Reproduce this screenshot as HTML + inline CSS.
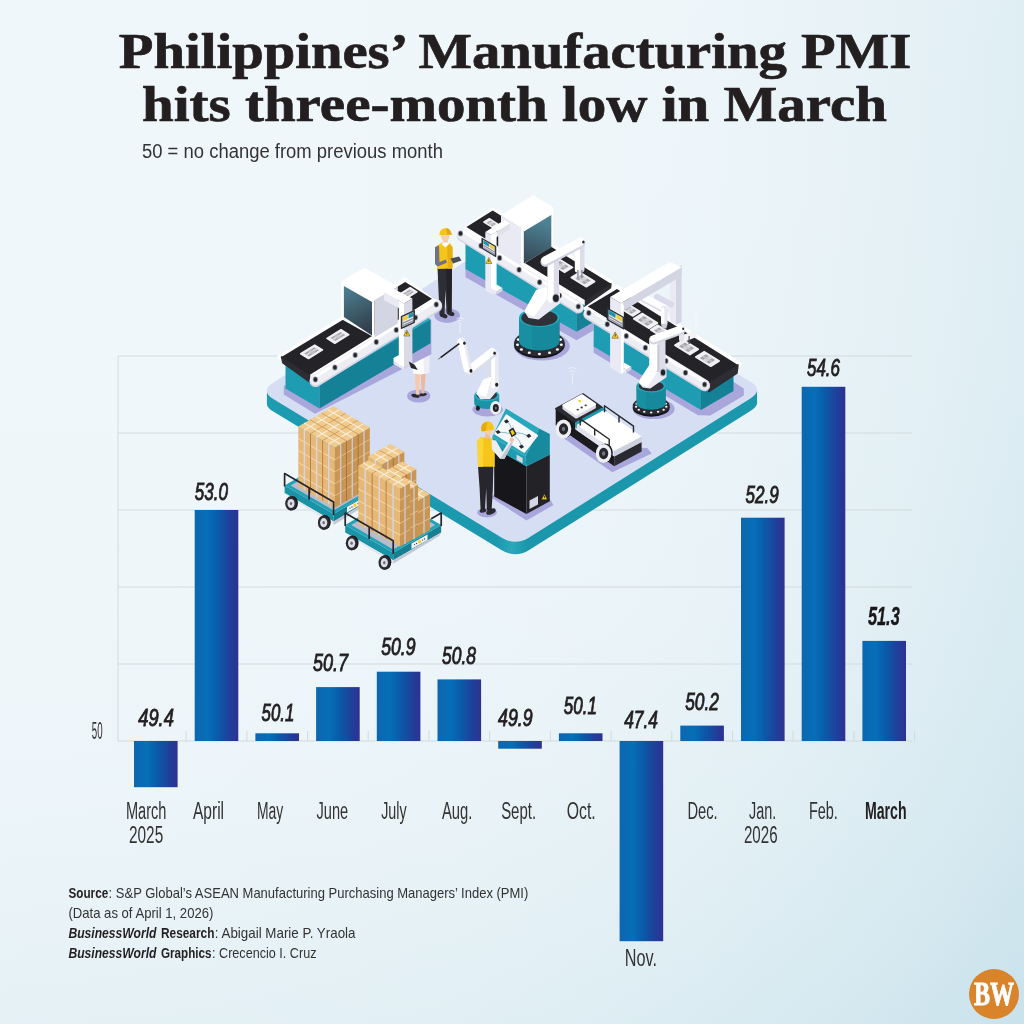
<!DOCTYPE html>
<html lang="en"><head><meta charset="utf-8"><title>Philippines’ Manufacturing PMI hits three-month low in March</title>
<style>
html,body{margin:0;padding:0;background:#e9f3f8;}
body{width:1024px;height:1024px;overflow:hidden;font-family:"Liberation Sans",sans-serif;}
svg{display:block}
</style></head><body>
<svg width="1024" height="1024" viewBox="0 0 1024 1024">
<defs>
<linearGradient id="gx" x1="0" y1="0" x2="1" y2="0"><stop offset="0" stop-color="#54a3c0" stop-opacity="0.0000"/><stop offset="0.3" stop-color="#54a3c0" stop-opacity="0.0008"/><stop offset="0.45" stop-color="#54a3c0" stop-opacity="0.0041"/><stop offset="0.6" stop-color="#54a3c0" stop-opacity="0.0130"/><stop offset="0.7" stop-color="#54a3c0" stop-opacity="0.0240"/><stop offset="0.8" stop-color="#54a3c0" stop-opacity="0.0410"/><stop offset="0.9" stop-color="#54a3c0" stop-opacity="0.0656"/><stop offset="1.0" stop-color="#54a3c0" stop-opacity="0.1000"/></linearGradient><linearGradient id="gy" x1="0" y1="0" x2="0" y2="1"><stop offset="0" stop-color="#54a3c0" stop-opacity="0.0000"/><stop offset="0.3" stop-color="#54a3c0" stop-opacity="0.0005"/><stop offset="0.45" stop-color="#54a3c0" stop-opacity="0.0026"/><stop offset="0.6" stop-color="#54a3c0" stop-opacity="0.0083"/><stop offset="0.7" stop-color="#54a3c0" stop-opacity="0.0154"/><stop offset="0.8" stop-color="#54a3c0" stop-opacity="0.0262"/><stop offset="0.9" stop-color="#54a3c0" stop-opacity="0.0420"/><stop offset="1.0" stop-color="#54a3c0" stop-opacity="0.0640"/></linearGradient><linearGradient id="gd" x1="0" y1="0" x2="1" y2="1"><stop offset="0" stop-color="#54a3c0" stop-opacity="0.0000"/><stop offset="0.3" stop-color="#54a3c0" stop-opacity="0.0009"/><stop offset="0.45" stop-color="#54a3c0" stop-opacity="0.0047"/><stop offset="0.6" stop-color="#54a3c0" stop-opacity="0.0149"/><stop offset="0.7" stop-color="#54a3c0" stop-opacity="0.0276"/><stop offset="0.8" stop-color="#54a3c0" stop-opacity="0.0471"/><stop offset="0.9" stop-color="#54a3c0" stop-opacity="0.0755"/><stop offset="1.0" stop-color="#54a3c0" stop-opacity="0.1150"/></linearGradient>
<linearGradient id="bar" x1="0" y1="0" x2="1" y2="0">
<stop offset="0" stop-color="#0d66b0"/><stop offset="0.3" stop-color="#056fb7"/><stop offset="0.55" stop-color="#0b59a8"/><stop offset="0.8" stop-color="#1f409b"/><stop offset="1" stop-color="#2e3192"/>
</linearGradient>
</defs>
<rect width="1024" height="1024" fill="#f0f7fa"/><rect width="1024" height="1024" fill="url(#gx)"/><rect width="1024" height="1024" fill="url(#gy)"/><rect width="1024" height="1024" fill="url(#gd)"/>
<line x1="118" y1="741.0" x2="912" y2="741.0" stroke="#d0d7db" stroke-width="0.9"/>
<line x1="118" y1="664.0" x2="912" y2="664.0" stroke="#d0d7db" stroke-width="0.9"/>
<line x1="118" y1="587.0" x2="912" y2="587.0" stroke="#d0d7db" stroke-width="0.9"/>
<line x1="118" y1="510.0" x2="912" y2="510.0" stroke="#d0d7db" stroke-width="0.9"/>
<line x1="118" y1="433.0" x2="912" y2="433.0" stroke="#d0d7db" stroke-width="0.9"/>
<line x1="118" y1="356.0" x2="912" y2="356.0" stroke="#d0d7db" stroke-width="0.9"/>
<line x1="118" y1="356.0" x2="118" y2="741.0" stroke="#d0d7db" stroke-width="0.9"/>
<line x1="186.2" y1="731.0" x2="186.2" y2="741.0" stroke="#d0d7db" stroke-width="0.9"/>
<line x1="246.9" y1="731.0" x2="246.9" y2="741.0" stroke="#d0d7db" stroke-width="0.9"/>
<line x1="307.6" y1="731.0" x2="307.6" y2="741.0" stroke="#d0d7db" stroke-width="0.9"/>
<line x1="368.2" y1="731.0" x2="368.2" y2="741.0" stroke="#d0d7db" stroke-width="0.9"/>
<line x1="429.0" y1="731.0" x2="429.0" y2="741.0" stroke="#d0d7db" stroke-width="0.9"/>
<line x1="489.6" y1="731.0" x2="489.6" y2="741.0" stroke="#d0d7db" stroke-width="0.9"/>
<line x1="550.4" y1="731.0" x2="550.4" y2="741.0" stroke="#d0d7db" stroke-width="0.9"/>
<line x1="611.1" y1="731.0" x2="611.1" y2="741.0" stroke="#d0d7db" stroke-width="0.9"/>
<line x1="671.8" y1="731.0" x2="671.8" y2="741.0" stroke="#d0d7db" stroke-width="0.9"/>
<line x1="732.5" y1="731.0" x2="732.5" y2="741.0" stroke="#d0d7db" stroke-width="0.9"/>
<line x1="793.1" y1="731.0" x2="793.1" y2="741.0" stroke="#d0d7db" stroke-width="0.9"/>
<line x1="853.9" y1="731.0" x2="853.9" y2="741.0" stroke="#d0d7db" stroke-width="0.9"/>
<line x1="914.6" y1="731.0" x2="914.6" y2="741.0" stroke="#d0d7db" stroke-width="0.9"/>
<g id="illustration">
<defs><linearGradient id="platside" x1="0" y1="0" x2="1" y2="0"><stop offset="0" stop-color="#1d9cb1"/><stop offset="0.47" stop-color="#1b98ad"/><stop offset="0.5" stop-color="#2aa9bc"/><stop offset="0.53" stop-color="#1a97ab"/><stop offset="1" stop-color="#1b98ad"/></linearGradient></defs><g fill="url(#platside)"><path d="M273.7,399.3 Q260.0,391.0 273.5,382.5 L495.5,242.5 Q509.0,234.0 522.6,242.3 L750.4,381.7 Q764.0,390.0 750.4,398.5 L529.1,537.5 Q515.5,546.0 501.8,537.7Z" transform="translate(0 12.5)"/><path d="M273.7,399.3 Q260.0,391.0 273.5,382.5 L495.5,242.5 Q509.0,234.0 522.6,242.3 L750.4,381.7 Q764.0,390.0 750.4,398.5 L529.1,537.5 Q515.5,546.0 501.8,537.7Z" transform="translate(0 10)"/><path d="M273.7,399.3 Q260.0,391.0 273.5,382.5 L495.5,242.5 Q509.0,234.0 522.6,242.3 L750.4,381.7 Q764.0,390.0 750.4,398.5 L529.1,537.5 Q515.5,546.0 501.8,537.7Z" transform="translate(0 7.5)"/><path d="M273.7,399.3 Q260.0,391.0 273.5,382.5 L495.5,242.5 Q509.0,234.0 522.6,242.3 L750.4,381.7 Q764.0,390.0 750.4,398.5 L529.1,537.5 Q515.5,546.0 501.8,537.7Z" transform="translate(0 5)"/><path d="M273.7,399.3 Q260.0,391.0 273.5,382.5 L495.5,242.5 Q509.0,234.0 522.6,242.3 L750.4,381.7 Q764.0,390.0 750.4,398.5 L529.1,537.5 Q515.5,546.0 501.8,537.7Z" transform="translate(0 2.5)"/></g><path d="M273.7,399.3 Q260.0,391.0 273.5,382.5 L495.5,242.5 Q509.0,234.0 522.6,242.3 L750.4,381.7 Q764.0,390.0 750.4,398.5 L529.1,537.5 Q515.5,546.0 501.8,537.7Z" fill="#d6def3"/>
<polygon points="465.5,262.0 465.5,277.2 576.5,340.2 593.5,330.5 593.5,318.0 576.5,300.0" fill="#a9a6dc"/><polygon points="465.5,269.0 576.5,331.7 576.5,301.7 465.5,239.0" fill="#1e9db2"/><polygon points="576.5,331.7 603.5,316.5 603.5,286.5 576.5,301.7" fill="#148197"/><polygon points="465.5,239.0 576.5,301.7 603.5,286.5 492.5,223.7" fill="#27a9bd"/><polygon points="464.9,228.5 492.7,208.5 614.0,282.8 585.5,304.4 468.4,233.0" fill="#ffffff" stroke="#fff" stroke-width="2.4" stroke-linejoin="round"/><polygon points="585.5,300.4 611.0,283.8 610.0,290.8 585.5,308.4" fill="#2d2d33" stroke="#2d2d33" stroke-width="1.5" stroke-linejoin="round"/><polygon points="466.4,227.0 492.7,210.5 611.0,283.8 585.5,300.4" fill="#232328"/><polygon points="484.0,222.0 493.3,227.8 498.6,224.6 489.3,218.8" fill="#f1f1f4" stroke="#f1f1f4" stroke-width="1.6" stroke-linejoin="round"/><polygon points="486.5,222.7 492.3,226.2 496.1,223.9 490.3,220.4" fill="#a4a5ad"/><polygon points="488.4,223.8 490.4,225.1 494.2,222.8 492.2,221.5" fill="#d9d9de"/><polygon points="487.9,221.9 493.6,225.4 494.7,224.7 489.0,221.2" fill="#c4c4cb" opacity="0.8"/><polygon points="550.4,263.6 564.6,272.4 572.6,267.4 558.4,258.6" fill="#f1f1f4" stroke="#f1f1f4" stroke-width="1.6" stroke-linejoin="round"/><polygon points="554.2,264.5 563.0,270.0 568.8,266.5 560.0,261.0" fill="#a4a5ad"/><polygon points="557.1,266.3 560.2,268.2 565.9,264.7 562.8,262.8" fill="#d9d9de"/><polygon points="556.2,263.3 565.1,268.8 566.8,267.7 557.9,262.2" fill="#c4c4cb" opacity="0.8"/><polygon points="571.3,277.5 586.3,286.8 594.7,281.5 579.7,272.2" fill="#f1f1f4" stroke="#f1f1f4" stroke-width="1.6" stroke-linejoin="round"/><polygon points="575.3,278.5 584.6,284.3 590.7,280.5 581.4,274.7" fill="#a4a5ad"/><polygon points="578.3,280.4 581.6,282.4 587.7,278.6 584.4,276.6" fill="#d9d9de"/><polygon points="577.4,277.2 586.7,282.9 588.6,281.8 579.3,276.1" fill="#c4c4cb" opacity="0.8"/><polygon points="501.0,215.1 521.0,227.5 521.0,265.5 501.0,253.1" fill="#e9eaf3"/><polygon points="521.0,227.5 553.3,207.5 553.3,245.5 521.0,265.5" fill="#ffffff"/><defs><linearGradient id="scr2" x1="0" y1="0" x2="-0.2" y2="1"><stop offset="0" stop-color="#4d8395"/><stop offset="1" stop-color="#33414d"/></linearGradient></defs><polygon points="523.8,231.5 551.3,215.0 551.3,247.5 523.8,263.5" fill="url(#scr2)"/><polygon points="501.0,215.1 533.3,195.1 553.3,207.5 521.0,227.5" fill="#ffffff"/><line x1="462.3" y1="235.9" x2="578.3" y2="308.0" stroke="#d3d5e3" stroke-width="11" stroke-linecap="round"/><line x1="462.3" y1="234.7" x2="578.3" y2="306.8" stroke="#ededf4" stroke-width="10" stroke-linecap="round"/><line x1="463.3" y1="231.4" x2="577.3" y2="303.5" stroke="#ffffff" stroke-width="3.0" stroke-linecap="round"/><ellipse cx="460.5" cy="233.4" rx="2.6" ry="3.0" fill="#9a9aa8"/><ellipse cx="460.5" cy="233.4" rx="1.8" ry="2.2" fill="#26262c"/><ellipse cx="481.0" cy="245.7" rx="2.6" ry="3.0" fill="#9a9aa8"/><ellipse cx="481.0" cy="245.7" rx="1.8" ry="2.2" fill="#26262c"/><ellipse cx="499.6" cy="258.0" rx="2.6" ry="3.0" fill="#9a9aa8"/><ellipse cx="499.6" cy="258.0" rx="1.8" ry="2.2" fill="#26262c"/><ellipse cx="519.1" cy="269.7" rx="2.6" ry="3.0" fill="#9a9aa8"/><ellipse cx="519.1" cy="269.7" rx="1.8" ry="2.2" fill="#26262c"/><ellipse cx="539.6" cy="282.2" rx="2.6" ry="3.0" fill="#9a9aa8"/><ellipse cx="539.6" cy="282.2" rx="1.8" ry="2.2" fill="#26262c"/><ellipse cx="559.5" cy="295.5" rx="2.6" ry="3.0" fill="#9a9aa8"/><ellipse cx="559.5" cy="295.5" rx="1.8" ry="2.2" fill="#26262c"/><ellipse cx="578.3" cy="306.6" rx="2.6" ry="3.0" fill="#9a9aa8"/><ellipse cx="578.3" cy="306.6" rx="1.8" ry="2.2" fill="#26262c"/><polygon points="498.2,229.5 501.3,227.5 501.3,254.0 498.2,252.0" fill="#e9eaf3"/><polygon points="485.3,232.0 491.0,235.0 510.0,223.5 504.5,220.0" fill="#ffffff"/><polygon points="491.0,235.0 510.0,223.5 510.0,229.0 491.0,240.5" fill="#dfe0ea"/><polygon points="485.3,232.0 491.0,235.0 491.0,293.5 485.3,290.5" fill="#e9eaf3"/><polygon points="491.0,235.0 496.6,231.5 496.6,290.0 491.0,293.5" fill="#ffffff"/><polygon points="491.0,288.0 496.6,284.5 502.5,288.0 496.6,291.5" fill="#ffffff"/><polygon points="491.0,288.0 496.6,291.5 496.6,294.5 491.0,293.5" fill="#e9eaf3"/><polygon points="496.6,291.5 502.5,288.0 502.5,291.0 496.6,294.5" fill="#d3d5e3"/><polygon points="482.0,238.4 495.7,246.6 495.7,256.4 482.0,248.2" fill="#2e333d" stroke="#2e333d" stroke-width="1.2" stroke-linejoin="round"/><polygon points="483.1,239.8 494.6,246.7 494.6,255.0 483.1,248.1" fill="#eef0f4"/><polygon points="483.4,240.2 488.9,243.5 488.9,246.9 483.4,243.6" fill="#1d93a8"/><polygon points="489.5,243.9 494.3,246.8 494.3,250.2 489.5,247.3" fill="#f0cf3a"/><polygon points="483.4,244.6 494.3,251.2 494.3,252.4 483.4,245.9" fill="#8c8f9a"/><polygon points="483.4,246.7 494.3,253.2 494.3,254.4 483.4,247.8" fill="#8c8f9a"/><polygon points="488.8,257.6 491.9,263.5 485.7,263.5" fill="#f4cf1f" stroke="#5b4a12" stroke-width="0.5" stroke-linejoin="round"/><rect x="488.4" y="259.5" width="0.8" height="2.5" fill="#3a2f10"/>
<polygon points="593.7,340.0 593.7,352.8 698.0,415.2 710.4,415.5 743.8,395.6 743.8,388.6 733.6,382.0" fill="#a9a6dc"/><polygon points="593.7,346.5 701.0,410.1 701.0,380.1 593.7,316.5" fill="#1e9db2"/><polygon points="701.0,410.1 733.5,390.9 733.5,360.9 701.0,380.1" fill="#148197"/><polygon points="593.7,316.5 701.0,380.1 733.5,360.9 626.2,297.2" fill="#27a9bd"/><polygon points="584.8,308.6 617.0,286.0 741.0,364.0 708.9,386.6" fill="#ffffff" stroke="#fff" stroke-width="3" stroke-linejoin="round"/><polygon points="708.9,382.6 738.0,365.0 737.0,373.0 708.9,391.6" fill="#2d2d33" stroke="#2d2d33" stroke-width="1.5" stroke-linejoin="round"/><polygon points="587.8,306.6 617.0,289.0 738.0,365.0 708.9,382.6" fill="#232328"/><polygon points="620.1,308.1 632.8,316.0 639.9,311.5 627.2,303.6" fill="#f1f1f4" stroke="#f1f1f4" stroke-width="1.6" stroke-linejoin="round"/><polygon points="623.5,308.9 631.4,313.8 636.5,310.7 628.6,305.8" fill="#a4a5ad"/><polygon points="626.0,310.5 628.8,312.3 634.0,309.1 631.2,307.3" fill="#d9d9de"/><polygon points="625.3,307.8 633.2,312.7 634.7,311.8 626.8,306.9" fill="#c4c4cb" opacity="0.8"/><polygon points="633.7,318.8 649.0,328.3 657.5,323.0 642.2,313.5" fill="#f1f1f4" stroke="#f1f1f4" stroke-width="1.6" stroke-linejoin="round"/><polygon points="637.8,319.9 647.3,325.8 653.4,321.9 643.9,316.0" fill="#a4a5ad"/><polygon points="640.9,321.8 644.2,323.8 650.3,320.0 647.0,318.0" fill="#d9d9de"/><polygon points="639.9,318.5 649.4,324.4 651.3,323.3 641.8,317.4" fill="#c4c4cb" opacity="0.8"/><polygon points="650.6,329.8 663.3,337.7 670.4,333.2 657.7,325.3" fill="#f1f1f4" stroke="#f1f1f4" stroke-width="1.6" stroke-linejoin="round"/><polygon points="654.0,330.6 661.9,335.5 667.0,332.4 659.1,327.5" fill="#a4a5ad"/><polygon points="656.5,332.2 659.3,334.0 664.5,330.8 661.7,329.0" fill="#d9d9de"/><polygon points="655.8,329.5 663.7,334.4 665.2,333.5 657.3,328.6" fill="#c4c4cb" opacity="0.8"/><polygon points="674.9,345.3 689.9,354.6 698.3,349.3 683.3,340.0" fill="#f1f1f4" stroke="#f1f1f4" stroke-width="1.6" stroke-linejoin="round"/><polygon points="678.9,346.3 688.2,352.1 694.3,348.3 685.0,342.5" fill="#a4a5ad"/><polygon points="681.9,348.2 685.2,350.2 691.3,346.4 688.0,344.4" fill="#d9d9de"/><polygon points="681.0,345.0 690.3,350.7 692.2,349.6 682.9,343.9" fill="#c4c4cb" opacity="0.8"/><polygon points="695.8,357.0 710.8,366.3 719.2,361.0 704.2,351.7" fill="#f1f1f4" stroke="#f1f1f4" stroke-width="1.6" stroke-linejoin="round"/><polygon points="699.8,358.0 709.1,363.8 715.2,360.0 705.9,354.2" fill="#a4a5ad"/><polygon points="702.8,359.9 706.1,361.9 712.2,358.1 708.9,356.1" fill="#d9d9de"/><polygon points="701.9,356.7 711.2,362.4 713.1,361.3 703.8,355.6" fill="#c4c4cb" opacity="0.8"/>
<ellipse cx="447.2" cy="315.6" rx="12.8" ry="7.3" fill="#a9a6dc"/><ellipse cx="443.5" cy="315.5" rx="4.2" ry="2.3" fill="#2a2a30" transform="rotate(25 443.5 315.5)"/><ellipse cx="450.5" cy="313.3" rx="4.2" ry="2.3" fill="#2a2a30" transform="rotate(25 450.5 313.3)"/><polygon points="437.5,268.0 452.0,268.0 451.5,312.0 446.5,312.0 445.5,290.0 444.5,314.0 439.5,314.0" fill="#2e2e35"/><polygon points="446.0,268.0 452.0,268.0 451.5,312.0 448.0,312.0" fill="#222228"/><polygon points="436.5,246.0 442.0,242.5 450.0,243.0 452.5,247.0 452.5,268.5 437.5,269.0" fill="#f6c51c"/><polygon points="447.0,243.0 452.5,247.0 452.5,268.5 448.0,268.7" fill="#e6b013"/><polygon points="435.0,247.0 439.0,245.5 439.5,262.0 446.0,259.5 446.8,262.8 437.5,266.5 435.0,264.0" fill="#6f7280"/><polygon points="450.5,258.5 459.0,256.5 461.5,260.5 453.0,263.5" fill="#4c4f5a"/><rect x="443.2" y="238" width="4.6" height="6" fill="#f2c7a5"/><polygon points="441.5,244.0 445.5,247.5 449.5,243.5 447.5,242.5 443.5,242.5" fill="#ffffff"/><ellipse cx="445.3" cy="236.0" rx="4.2" ry="5" fill="#f5cfb0"/><path d="M439.5,234 A5.8,5.8 0 0 1 451,233 L452.5,234.6 L439.5,235.2 Z" fill="#f6c51c"/><path d="M446,228 A5.5,5.5 0 0 1 451,233 L452.5,234.6 L447,234.8 Z" fill="#e3aa10"/>
<ellipse cx="418.7" cy="396.0" rx="11.6" ry="6.6" fill="#a9a6dc"/><ellipse cx="415.5" cy="395.8" rx="4.2" ry="1.8" fill="#2a2a30" transform="rotate(12 415.5 395.8)"/><ellipse cx="423.0" cy="394.6" rx="3.8" ry="1.6" fill="#2a2a30" transform="rotate(-8 423 394.6)"/><polygon points="414.8,372.0 420.0,372.0 419.0,394.5 416.0,394.5" fill="#f5c9ad"/><polygon points="420.6,372.0 425.8,372.0 424.2,393.5 421.6,393.5" fill="#eeb99a"/><polygon points="411.4,345.0 429.2,345.0 429.2,372.8 421.0,374.6 413.0,373.5" fill="#fdfdfe"/><polygon points="423.0,345.0 429.2,345.0 429.2,372.8 424.0,374.0" fill="#eeeff5"/>
<polygon points="283.8,386.0 283.8,394.4 315.0,413.7 431.3,354.2 431.3,320.0 400.0,330.0" fill="#a9a6dc"/><polygon points="285.5,388.5 319.5,408.5 319.5,384.5 285.5,364.5" fill="#1e9db2"/><polygon points="319.5,408.5 430.5,343.2 430.5,319.2 319.5,384.5" fill="#148197"/><polygon points="285.5,364.5 319.5,384.5 430.5,319.2 396.5,299.2" fill="#27a9bd"/><polygon points="278.5,357.0 309.5,379.0 435.0,301.8 405.2,278.9" fill="#ffffff" stroke="#fff" stroke-width="3" stroke-linejoin="round"/><polygon points="281.5,357.0 309.5,375.0 309.5,382.0 283.0,363.0" fill="#2d2d33" stroke="#2d2d33" stroke-width="1.5" stroke-linejoin="round"/><polygon points="281.5,357.0 309.5,375.0 432.0,298.8 405.2,281.9" fill="#232328"/><polygon points="300.7,353.7 308.5,358.5 322.5,349.9 314.7,345.1" fill="#f1f1f4" stroke="#f1f1f4" stroke-width="1.6" stroke-linejoin="round"/><polygon points="304.2,353.4 309.0,356.4 319.0,350.2 314.2,347.2" fill="#a4a5ad"/><polygon points="305.7,354.4 307.4,355.4 317.5,349.2 315.8,348.2" fill="#d9d9de"/><polygon points="307.7,351.2 312.5,354.2 315.5,352.4 310.7,349.4" fill="#c4c4cb" opacity="0.8"/><polygon points="327.0,338.4 334.8,343.2 348.8,334.6 341.0,329.8" fill="#f1f1f4" stroke="#f1f1f4" stroke-width="1.6" stroke-linejoin="round"/><polygon points="330.5,338.1 335.3,341.1 345.3,334.9 340.5,331.9" fill="#a4a5ad"/><polygon points="332.0,339.1 333.7,340.1 343.8,333.9 342.1,332.9" fill="#d9d9de"/><polygon points="334.0,335.9 338.8,338.9 341.8,337.1 337.0,334.1" fill="#c4c4cb" opacity="0.8"/><polygon points="398.1,295.1 404.9,299.3 416.9,291.9 410.1,287.7" fill="#f1f1f4" stroke="#f1f1f4" stroke-width="1.6" stroke-linejoin="round"/><polygon points="401.1,294.9 405.3,297.5 413.9,292.1 409.7,289.5" fill="#a4a5ad"/><polygon points="402.5,295.7 403.9,296.6 412.5,291.3 411.1,290.4" fill="#d9d9de"/><polygon points="404.1,293.0 408.3,295.6 410.9,294.0 406.7,291.4" fill="#c4c4cb" opacity="0.8"/><line x1="315.4" y1="381.1" x2="436.3" y2="306.1" stroke="#d3d5e3" stroke-width="12" stroke-linecap="round"/><line x1="315.4" y1="379.8" x2="436.3" y2="304.8" stroke="#ededf4" stroke-width="11" stroke-linecap="round"/><line x1="316.4" y1="376.2" x2="435.3" y2="301.2" stroke="#ffffff" stroke-width="3.2" stroke-linecap="round"/><ellipse cx="315.4" cy="379.5" rx="2.6" ry="3.0" fill="#9a9aa8"/><ellipse cx="315.4" cy="379.5" rx="1.8" ry="2.2" fill="#26262c"/><ellipse cx="334.9" cy="367.4" rx="2.6" ry="3.0" fill="#9a9aa8"/><ellipse cx="334.9" cy="367.4" rx="1.8" ry="2.2" fill="#26262c"/><ellipse cx="355.2" cy="355.1" rx="2.6" ry="3.0" fill="#9a9aa8"/><ellipse cx="355.2" cy="355.1" rx="1.8" ry="2.2" fill="#26262c"/><ellipse cx="376.3" cy="342.0" rx="2.6" ry="3.0" fill="#9a9aa8"/><ellipse cx="376.3" cy="342.0" rx="1.8" ry="2.2" fill="#26262c"/><ellipse cx="396.3" cy="329.9" rx="2.6" ry="3.0" fill="#9a9aa8"/><ellipse cx="396.3" cy="329.9" rx="1.8" ry="2.2" fill="#26262c"/><ellipse cx="415.4" cy="317.6" rx="2.6" ry="3.0" fill="#9a9aa8"/><ellipse cx="415.4" cy="317.6" rx="1.8" ry="2.2" fill="#26262c"/><ellipse cx="436.3" cy="304.5" rx="2.6" ry="3.0" fill="#9a9aa8"/><ellipse cx="436.3" cy="304.5" rx="1.8" ry="2.2" fill="#26262c"/><polygon points="374.4,300.0 397.8,286.4 397.8,323.4 374.4,337.5" fill="#d3d5e3"/><polygon points="341.2,281.5 374.4,300.0 374.4,337.5 341.2,319.0" fill="#ffffff"/><defs><linearGradient id="scr1" x1="0" y1="0" x2="0.3" y2="1"><stop offset="0" stop-color="#4d8395"/><stop offset="1" stop-color="#33414d"/></linearGradient></defs><polygon points="343.9,286.0 372.0,302.0 372.0,335.6 343.9,317.0" fill="url(#scr1)"/><polygon points="341.2,281.5 364.6,267.8 397.8,286.4 374.4,300.0" fill="#ffffff"/><polygon points="384.0,292.5 392.0,288.0 412.4,298.5 404.0,303.5" fill="#ffffff"/><polygon points="384.0,292.5 404.0,303.5 404.0,311.0 384.0,300.0" fill="#e9eaf3"/><polygon points="398.8,300.5 404.0,303.5 404.0,367.5 398.8,364.5" fill="#ffffff"/><polygon points="404.0,303.5 412.4,298.5 412.4,362.5 404.0,367.5" fill="#d9dae6"/><polygon points="393.5,358.0 398.8,355.0 404.0,358.0 404.0,367.5 393.5,361.5" fill="#ffffff"/><polygon points="393.5,361.5 404.0,367.5 404.0,370.0 393.5,364.0" fill="#e9eaf3"/><polygon points="404.0,367.5 412.4,362.5 412.4,365.0 404.0,370.0" fill="#d3d5e3"/><polygon points="401.4,316.5 414.3,310.5 414.3,322.5 401.4,328.5" fill="#2e333d" stroke="#2e333d" stroke-width="1.2" stroke-linejoin="round"/><polygon points="402.4,317.0 413.3,311.9 413.3,322.0 402.4,327.1" fill="#eef0f4"/><polygon points="402.7,317.1 407.9,314.7 407.9,318.9 402.7,321.3" fill="#f0cf3a"/><polygon points="408.5,314.4 413.0,312.3 413.0,316.5 408.5,318.6" fill="#1d93a8"/><polygon points="402.7,322.5 413.0,317.7 413.0,319.3 402.7,324.1" fill="#8c8f9a"/><polygon points="402.7,325.0 413.0,320.2 413.0,321.7 402.7,326.5" fill="#8c8f9a"/><polygon points="406.8,330.1 409.9,336.0 403.7,336.0" fill="#f4cf1f" stroke="#5b4a12" stroke-width="0.5" stroke-linejoin="round"/><rect x="406.4" y="332.0" width="0.8" height="2.5" fill="#3a2f10"/>
<polygon points="408.7,361.5 414.5,364.8 417.8,369.9 411.0,368.0" fill="#26262c"/>
<ellipse cx="541.9" cy="346.2" rx="27.9" ry="14.399999999999999" fill="#a9a6dc"/><ellipse cx="539.4" cy="345.0" rx="25.4" ry="13.2" fill="#141418"/><ellipse cx="539.4" cy="343.0" rx="25.4" ry="13.2" fill="#2b2b32"/><ellipse cx="560.5" cy="339.6" rx="1.55" ry="1.3175" fill="#f6f6f8"/><ellipse cx="561.3" cy="344.7" rx="1.55" ry="1.3175" fill="#f6f6f8"/><ellipse cx="557.4" cy="349.5" rx="1.55" ry="1.3175" fill="#f6f6f8"/><ellipse cx="549.5" cy="352.8" rx="1.55" ry="1.3175" fill="#f6f6f8"/><ellipse cx="539.4" cy="354.0" rx="1.55" ry="1.3175" fill="#f6f6f8"/><ellipse cx="529.3" cy="352.8" rx="1.55" ry="1.3175" fill="#f6f6f8"/><ellipse cx="521.4" cy="349.5" rx="1.55" ry="1.3175" fill="#f6f6f8"/><ellipse cx="517.5" cy="344.7" rx="1.55" ry="1.3175" fill="#f6f6f8"/><ellipse cx="518.3" cy="339.6" rx="1.55" ry="1.3175" fill="#f6f6f8"/><path d="M519.1,317.6 L519.1,341.0 A20.3,9.5 0 0 0 559.7,341.0 L559.7,317.6 Z" fill="#17899c"/><path d="M519.1,317.6 L519.1,341.0 A20.3,9.5 0 0 0 532.3,349.8 L532.3,317.6 Z" fill="#1b93a6" opacity="0.6"/><ellipse cx="539.4" cy="317.6" rx="20.3" ry="9.5" fill="#25a6ba"/><ellipse cx="539.4" cy="317.9" rx="18.1" ry="8.1" fill="#303038"/><polygon points="525.5,311.3 536.8,291.0 547.6,286.5 559.0,293.5 559.0,303.0 538.5,318.5 529.0,317.0" fill="#e9eaf3" stroke="#e9eaf3" stroke-width="2" stroke-linejoin="round"/><polygon points="525.5,311.3 536.8,291.0 546.0,288.0 547.0,297.0 533.5,316.0" fill="#ffffff" stroke="#fff" stroke-width="2" stroke-linejoin="round"/><rect x="547.6" y="255.5" width="11.4" height="47" rx="4.5" fill="#dcdde8"/><rect x="547.6" y="255.5" width="6.2" height="47" rx="3" fill="#ffffff"/><rect x="574.9" y="239.5" width="9.6" height="33" rx="3.5" fill="#dcdde8"/><rect x="574.9" y="239.5" width="5" height="33" rx="2.5" fill="#ffffff"/><line x1="545.2" y1="262.0" x2="580.5" y2="243.4" stroke="#d3d5e3" stroke-width="9.4" stroke-linecap="round"/><line x1="545.2" y1="260.3" x2="580.5" y2="241.7" stroke="#ffffff" stroke-width="8" stroke-linecap="round"/><rect x="577.2" y="270" width="1.4" height="8" fill="#8d8f9c"/><rect x="581.2" y="270" width="1.4" height="8" fill="#8d8f9c"/><ellipse cx="555.9" cy="298.2" rx="3.8" ry="4.6" fill="#b9bac6"/><ellipse cx="555.9" cy="298.2" rx="2.9" ry="3.7" fill="#222227"/><ellipse cx="583.4" cy="242.0" rx="1.2" ry="1.5" fill="#222227"/>
<polygon points="669.8,265.0 676.0,268.5 676.0,325.0 669.8,321.5" fill="#e9eaf3"/><polygon points="676.0,268.5 681.6,265.0 681.6,322.0 676.0,325.0" fill="#d3d5e3"/><line x1="657.0" y1="297.0" x2="671.0" y2="304.5" stroke="#d9daea" stroke-width="6.0" stroke-linecap="round"/><line x1="644.5" y1="298.8" x2="664.5" y2="309.3" stroke="#d9dbe7" stroke-width="7.8" stroke-linecap="round"/><line x1="644.5" y1="297.6" x2="664.5" y2="308.1" stroke="#ffffff" stroke-width="6.8" stroke-linecap="round"/><line x1="664.3" y1="309.0" x2="664.3" y2="322.5" stroke="#e6e7f0" stroke-width="6.6" stroke-linecap="round"/><line x1="662.8" y1="309.0" x2="662.8" y2="322.5" stroke="#ffffff" stroke-width="3.2" stroke-linecap="round"/><polygon points="661.0,324.0 667.5,324.0 666.3,328.5 662.2,328.5" fill="#c9cbd9"/><line x1="588.8" y1="314.3" x2="704.6" y2="385.8" stroke="#d3d5e3" stroke-width="11" stroke-linecap="round"/><line x1="588.8" y1="313.1" x2="704.6" y2="384.6" stroke="#ededf4" stroke-width="10" stroke-linecap="round"/><line x1="589.8" y1="309.8" x2="703.6" y2="381.3" stroke="#ffffff" stroke-width="3.0" stroke-linecap="round"/><ellipse cx="588.8" cy="312.9" rx="2.6" ry="3.0" fill="#9a9aa8"/><ellipse cx="588.8" cy="312.9" rx="1.8" ry="2.2" fill="#26262c"/><ellipse cx="607.3" cy="324.2" rx="2.6" ry="3.0" fill="#9a9aa8"/><ellipse cx="607.3" cy="324.2" rx="1.8" ry="2.2" fill="#26262c"/><ellipse cx="626.3" cy="335.9" rx="2.6" ry="3.0" fill="#9a9aa8"/><ellipse cx="626.3" cy="335.9" rx="1.8" ry="2.2" fill="#26262c"/><ellipse cx="645.4" cy="347.7" rx="2.6" ry="3.0" fill="#9a9aa8"/><ellipse cx="645.4" cy="347.7" rx="1.8" ry="2.2" fill="#26262c"/><ellipse cx="665.9" cy="360.9" rx="2.6" ry="3.0" fill="#9a9aa8"/><ellipse cx="665.9" cy="360.9" rx="1.8" ry="2.2" fill="#26262c"/><ellipse cx="685.5" cy="372.7" rx="2.6" ry="3.0" fill="#9a9aa8"/><ellipse cx="685.5" cy="372.7" rx="1.8" ry="2.2" fill="#26262c"/><ellipse cx="704.6" cy="384.4" rx="2.6" ry="3.0" fill="#9a9aa8"/><ellipse cx="704.6" cy="384.4" rx="1.8" ry="2.2" fill="#26262c"/><polygon points="610.1,296.9 669.8,261.7 681.6,267.6 623.8,301.6 621.0,303.2" fill="#ffffff"/><polygon points="623.8,301.6 681.6,267.6 681.6,276.0 623.8,310.5" fill="#d3d5e3"/><polygon points="610.1,296.9 621.0,303.2 621.0,374.0 610.1,367.5" fill="#e9eaf3"/><polygon points="621.0,303.2 623.8,301.6 623.8,372.4 621.0,374.0" fill="#ffffff"/><polygon points="623.8,362.5 631.3,366.8 626.5,369.6 623.8,368.0" fill="#ffffff"/><polygon points="623.8,368.0 626.5,369.6 626.5,372.6 623.8,372.4" fill="#e9eaf3"/><polygon points="626.5,369.6 631.3,366.8 631.3,369.8 626.5,372.6" fill="#d3d5e3"/><polygon points="607.3,308.2 623.8,317.4 623.8,329.0 607.3,319.8" fill="#2e333d" stroke="#2e333d" stroke-width="1.2" stroke-linejoin="round"/><polygon points="608.6,309.9 622.5,317.6 622.5,327.3 608.6,319.6" fill="#eef0f4"/><polygon points="608.9,310.3 615.5,314.0 615.5,318.0 608.9,314.3" fill="#1d93a8"/><polygon points="616.4,314.4 622.1,317.6 622.1,321.7 616.4,318.5" fill="#f0cf3a"/><polygon points="608.9,315.5 622.1,322.9 622.1,324.4 608.9,317.0" fill="#8c8f9a"/><polygon points="608.9,317.9 622.1,325.3 622.1,326.7 608.9,319.3" fill="#8c8f9a"/><polygon points="615.2,332.0 618.5,338.2 611.9,338.2" fill="#f4cf1f" stroke="#5b4a12" stroke-width="0.5" stroke-linejoin="round"/><rect x="614.8" y="334.0" width="0.8" height="2.6" fill="#3a2f10"/>
<ellipse cx="653.7" cy="409.0" rx="21.0" ry="10.1" fill="#a9a6dc"/><ellipse cx="651.2" cy="407.8" rx="18.5" ry="8.9" fill="#141418"/><ellipse cx="651.2" cy="405.8" rx="18.5" ry="8.9" fill="#2b2b32"/><ellipse cx="665.8" cy="403.7" rx="1.2" ry="1.02" fill="#f6f6f8"/><ellipse cx="666.3" cy="406.8" rx="1.2" ry="1.02" fill="#f6f6f8"/><ellipse cx="663.6" cy="409.7" rx="1.2" ry="1.02" fill="#f6f6f8"/><ellipse cx="658.1" cy="411.8" rx="1.2" ry="1.02" fill="#f6f6f8"/><ellipse cx="651.2" cy="412.5" rx="1.2" ry="1.02" fill="#f6f6f8"/><ellipse cx="644.3" cy="411.8" rx="1.2" ry="1.02" fill="#f6f6f8"/><ellipse cx="638.8" cy="409.7" rx="1.2" ry="1.02" fill="#f6f6f8"/><ellipse cx="636.1" cy="406.8" rx="1.2" ry="1.02" fill="#f6f6f8"/><ellipse cx="636.6" cy="403.7" rx="1.2" ry="1.02" fill="#f6f6f8"/><path d="M636.5,385.8 L636.5,403.2 A14.7,6.6 0 0 0 665.9,403.2 L665.9,385.8 Z" fill="#17899c"/><path d="M636.5,385.8 L636.5,403.2 A14.7,6.6 0 0 0 646.1,409.3 L646.1,385.8 Z" fill="#1b93a6" opacity="0.6"/><ellipse cx="651.2" cy="385.8" rx="14.7" ry="6.6" fill="#25a6ba"/><ellipse cx="651.2" cy="386.1" rx="12.5" ry="5.199999999999999" fill="#303038"/><polygon points="639.5,382.0 651.1,364.3 662.0,360.2 665.5,368.4 665.5,376.6 650.0,387.5 643.0,386.5" fill="#e9eaf3" stroke="#e9eaf3" stroke-width="2" stroke-linejoin="round"/><polygon points="639.5,382.0 651.1,364.3 656.5,362.6 656.0,372.0 647.0,386.0" fill="#ffffff" stroke="#fff" stroke-width="2" stroke-linejoin="round"/><rect x="649.4" y="336" width="16.1" height="36" rx="4" fill="#dcdde8"/><rect x="649.4" y="336" width="8" height="36" rx="3.5" fill="#ffffff"/><rect x="657.4" y="345" width="2.2" height="27" fill="#c9cbd9"/><rect x="679" y="325" width="5.2" height="16.5" rx="2" fill="#e3e4ed"/><polygon points="684.0,334.5 694.0,331.0 696.4,333.5 696.4,337.0 686.5,341.0 684.0,341.0" fill="#f3f3f7"/><rect x="688.5" y="336" width="1.2" height="8" fill="#55565f"/><line x1="653.5" y1="340.2" x2="681.0" y2="330.2" stroke="#d3d5e3" stroke-width="8.6" stroke-linecap="round"/><line x1="653.5" y1="338.8" x2="681.0" y2="328.8" stroke="#ffffff" stroke-width="7.2" stroke-linecap="round"/><ellipse cx="663.0" cy="372.5" rx="3.1" ry="3.9" fill="#b9bac6"/><ellipse cx="663.0" cy="372.5" rx="2.2" ry="2.9" fill="#222227"/><ellipse cx="683.2" cy="328.7" rx="1.0" ry="1.3" fill="#222227"/>
<g stroke="#ffffff" stroke-width="1" fill="none" opacity="0.55"><path d="M456.5,319.0 Q460.0,316.0 463.5,319.0"/><path d="M457.6,321.5 Q460.0,319.2 462.4,321.5"/><path d="M458.7,324.0 Q460.0,322.6 461.3,324.0"/><line x1="460.0" y1="325.0" x2="460.0" y2="333.0"/></g>
<g stroke="#ffffff" stroke-width="1" fill="none" opacity="0.55"><path d="M568.6,369.2 Q572.5,365.9 576.4,369.2"/><path d="M569.9,371.9 Q572.5,369.4 575.1,371.9"/><path d="M571.1,374.7 Q572.5,373.2 573.9,374.7"/><line x1="572.5" y1="375.8" x2="572.5" y2="384.6"/></g>
<g stroke="#ffffff" stroke-width="1" fill="none" opacity="0.55"><path d="M693.2,314.6 Q696.0,312.2 698.8,314.6"/><path d="M694.1,316.6 Q696.0,314.8 697.9,316.6"/><path d="M695.0,318.6 Q696.0,317.5 697.0,318.6"/><line x1="696.0" y1="319.4" x2="696.0" y2="325.8"/></g>
<ellipse cx="487.6" cy="409.6" rx="15.2" ry="6.8" fill="#a9a6dc"/><path d="M474.2,395.5 L474.2,403 A12.5,6 0 0 0 499.2,403 L499.2,395.5 Z" fill="#1b93a7"/><ellipse cx="486.7" cy="395.5" rx="12.5" ry="6" fill="#29a7bb"/><ellipse cx="486.7" cy="395.0" rx="10.4" ry="4.8" fill="#36363e"/><ellipse cx="477.9" cy="408.2" rx="2" ry="2.6" fill="#222227"/><polygon points="477.6,393.5 484.0,380.5 492.0,376.5 498.0,380.0 498.0,388.0 489.5,398.0 481.0,398.0" fill="#e9eaf3" stroke="#e9eaf3" stroke-width="2.4" stroke-linejoin="round"/><polygon points="477.6,393.5 484.0,380.5 490.5,378.0 485.5,395.5" fill="#ffffff" stroke="#fff" stroke-width="2.2" stroke-linejoin="round"/><line x1="488.2" y1="364.5" x2="488.2" y2="377.0" stroke="#dcdee9" stroke-width="5.6" stroke-linecap="butt"/><rect x="491.3" y="350.5" width="7.4" height="38" rx="3.4" fill="#e9eaf3"/><rect x="491.3" y="350.5" width="3.6" height="38" rx="1.8" fill="#ffffff"/><line x1="492.5" y1="353.2" x2="469.2" y2="371.6" stroke="#dcdee9" stroke-width="9" stroke-linecap="round"/><line x1="492.0" y1="351.6" x2="468.8" y2="370.0" stroke="#ffffff" stroke-width="7.4" stroke-linecap="round"/><line x1="467.8" y1="369.5" x2="461.4" y2="341.5" stroke="#e9eaf3" stroke-width="8.2" stroke-linecap="round"/><line x1="466.6" y1="369.3" x2="460.2" y2="341.3" stroke="#ffffff" stroke-width="5.6" stroke-linecap="round"/><line x1="459.3" y1="343.6" x2="440.5" y2="357.6" stroke="#26262c" stroke-width="1.7" stroke-linecap="butt"/><line x1="440.5" y1="357.6" x2="438.3" y2="359.2" stroke="#55565f" stroke-width="0.9" stroke-linecap="butt"/><ellipse cx="464.4" cy="343.2" rx="1.3" ry="1.625" fill="#222227"/><ellipse cx="471.0" cy="370.8" rx="1.5" ry="1.875" fill="#222227"/><ellipse cx="494.6" cy="353.2" rx="1.3" ry="1.625" fill="#222227"/><ellipse cx="496.7" cy="384.7" rx="1.6" ry="2.0" fill="#222227"/><ellipse cx="495.6" cy="407.9" rx="5.5" ry="6.9" fill="#eeeff4"/><ellipse cx="495.8" cy="407.9" rx="3" ry="4" fill="#222227"/><ellipse cx="495.8" cy="407.9" rx="1.1" ry="1.5" fill="#6f717d"/>
<polygon points="557.7,434.0 612.3,472.3 651.6,453.5 647.6,448.2 635.6,447.3" fill="#a9a6dc"/><polygon points="555.7,425.2 614.3,466.2 614.3,456.6 575.2,429.2 575.2,422.2 555.7,408.6" fill="#1a1a1f"/><polygon points="614.3,466.2 641.6,451.5 641.6,441.9 614.3,456.6" fill="#2a2a30"/><polygon points="555.7,408.6 575.2,422.2 602.5,407.5 583.0,393.9" fill="#2c2c33" stroke="#2c2c33" stroke-width="1.5" stroke-linejoin="round"/><polygon points="575.2,422.2 579.7,425.4 607.0,410.7 602.5,407.5" fill="#1c97ab"/><polygon points="575.2,427.2 579.7,430.4 579.7,425.4 575.2,422.2" fill="#17889b"/><polygon points="576.7,430.3 614.3,456.6 614.3,451.1 576.7,424.8" fill="#e2e3ec"/><polygon points="614.3,456.6 641.6,441.9 641.6,436.4 614.3,451.1" fill="#cdd0dd"/><polygon points="576.7,424.8 614.3,451.1 641.6,436.4 604.0,410.1" fill="#ffffff"/><polygon points="563.7,408.6 576.2,417.4 594.7,407.4 594.7,404.2 576.2,414.2 563.7,405.4" fill="#d9dbe6" stroke="#d9dbe6" stroke-width="2.4" stroke-linejoin="round"/><polygon points="563.7,405.4 576.2,414.2 594.7,404.2 582.2,395.4" fill="#ffffff" stroke="#fff" stroke-width="2.4" stroke-linejoin="round"/><ellipse cx="579.7" cy="401.1" rx="1.5" ry="1.1" fill="#f4cf1f"/><ellipse cx="577.7" cy="409.6" rx="1.2" ry="0.9" fill="#3a3a42"/><ellipse cx="581.7" cy="407.5" rx="1.2" ry="0.9" fill="#3a3a42"/><ellipse cx="585.7" cy="405.3" rx="1.2" ry="0.9" fill="#3a3a42"/><path d="M604.5,412.3 L604.5,405.8 L633.5,426.1 L633.5,432.6 M619.0,422.4 L619.0,415.9" stroke="#26262c" stroke-width="1.4" fill="none" stroke-linejoin="round"/><path d="M580.2,425.4 L580.2,418.9 L609.2,439.2 L609.2,445.7 M594.7,435.5 L594.7,429.0" stroke="#26262c" stroke-width="1.4" fill="none" stroke-linejoin="round"/><ellipse cx="565.1" cy="428.4" rx="7.6" ry="9.4" fill="#131316"/><ellipse cx="563.5" cy="429.0" rx="7.8" ry="9.6" fill="#eeeff4"/><ellipse cx="563.5" cy="429.0" rx="4.6" ry="5.8" fill="#26262c"/><ellipse cx="563.5" cy="429.0" rx="1.7" ry="2.2" fill="#6f717d"/><ellipse cx="605.2" cy="452.9" rx="7.6" ry="9.4" fill="#131316"/><ellipse cx="603.6" cy="453.5" rx="7.8" ry="9.6" fill="#eeeff4"/><ellipse cx="603.6" cy="453.5" rx="4.6" ry="5.8" fill="#26262c"/><ellipse cx="603.6" cy="453.5" rx="1.7" ry="2.2" fill="#6f717d"/>
<polygon points="491.0,497.5 526.4,520.5 553.5,505.0 549.8,499.0 526.4,512.0 494.2,494.0" fill="#a9a6dc"/><polygon points="494.2,447.6 526.4,466.2 526.4,514.0 494.2,496.4" fill="#17171b"/><polygon points="526.4,466.2 549.8,454.5 549.8,501.3 526.4,514.0" fill="#222227"/><polygon points="526.4,466.4 525.4,456.4 539.1,428.5 549.8,433.9 549.8,454.7" fill="#178a9e"/><polygon points="492.2,436.9 505.9,408.6 539.1,428.5 525.4,456.4" fill="#27a7bb"/><polygon points="492.2,436.9 525.4,456.4 526.4,466.4 494.2,447.8" fill="#1e9db2"/><polygon points="495.2,433.6 506.4,415.4 537.0,435.7 524.2,451.8" fill="#f7f8fb" stroke="#f7f8fb" stroke-width="2" stroke-linejoin="round"/><path d="M506.5,421.3 L510,424.5 L511.5,429.5 M498.1,432 L504,432.5 L510,433.5 M528.8,435.9 L522,433.5 L515.5,432.5 M521.5,446.6 L519.5,441 L514.5,436" stroke="#3f97a6" stroke-width="0.6" fill="none"/><polygon points="503.9,420.9 506.9,419.2 509.1,421.7 506.1,423.4" fill="#26262c"/><polygon points="495.5,431.6 498.5,429.9 500.7,432.4 497.7,434.1" fill="#26262c"/><polygon points="526.2,435.5 529.2,433.8 531.4,436.3 528.4,438.0" fill="#26262c"/><polygon points="518.9,446.2 521.9,444.5 524.1,447.0 521.1,448.7" fill="#26262c"/><polygon points="508.5,430.2 513.3,427.6 516.6,434.2 511.6,437.2" fill="#26262c"/><polygon points="510.3,431.0 512.8,429.7 514.8,433.6 512.2,435.2" fill="#f4cf1f"/><polygon points="516.6,454.5 522.6,458.0 522.6,463.3 516.6,459.8" fill="#d4d7e3"/><polygon points="529.5,500.5 538.0,496.0 538.0,504.5 529.5,509.0" fill="#d4d7e3"/><polygon points="544.4,494.2 547.2,499.5 541.6,499.5" fill="#f4cf1f" stroke="#5b4a12" stroke-width="0.5" stroke-linejoin="round"/><rect x="544.0" y="495.9" width="0.8" height="2.2" fill="#3a2f10"/>
<ellipse cx="487.0" cy="512.6" rx="10" ry="4.8" fill="#a9a6dc"/><ellipse cx="483.0" cy="510.6" rx="3.4" ry="2" fill="#2a2a30" transform="rotate(-10 483 510.6)"/><ellipse cx="491.0" cy="511.6" rx="5" ry="2.5" fill="#2a2a30" transform="rotate(-24 491 511.6)"/><polygon points="478.0,466.0 493.4,466.0 492.8,490.0 491.6,510.5 486.8,510.5 486.2,488.0 485.0,510.0 480.6,510.0 479.6,488.0" fill="#26262c"/><polygon points="477.2,441.0 481.0,437.2 490.0,437.5 494.6,441.5 494.8,466.8 478.0,466.8" fill="#f6c51c"/><polygon points="477.2,441.0 481.0,437.2 483.4,437.8 483.0,466.8 478.0,466.8" fill="#fbd534"/><polygon points="491.5,440.0 496.0,440.5 502.5,452.0 509.8,440.2 513.0,442.4 504.5,458.8 500.0,458.8 492.0,449.5" fill="#eceef4"/><polygon points="500.0,458.8 504.5,458.8 513.0,442.4 511.5,441.4" fill="#c5c9d6"/><ellipse cx="511.8" cy="439.8" rx="2.3" ry="2.3" fill="#f2c7a5"/><rect x="485.2" y="431.5" width="4.6" height="7" fill="#eebf99"/><ellipse cx="488.4" cy="430.0" rx="4.2" ry="4.6" fill="#f5cfb0"/><path d="M481.2,428.6 A6.2,6.2 0 0 1 493.5,426.6 L494.4,429.8 L481.8,431.6 Z" fill="#f6c51c"/><path d="M481.2,428.6 A6.2,6.2 0 0 1 487,422.2 L486,430.8 L481.8,431.6 Z" fill="#e3aa10"/>
<polygon points="284.6,485.5 333.6,513.9 333.6,521.4 284.6,493.0" fill="#1b93a7"/><polygon points="333.6,513.9 379.6,487.2 379.6,494.7 333.6,521.4" fill="#167f91"/><polygon points="284.6,493.0 333.6,521.4 333.6,524.9 288.6,496.5" fill="#e4e5ee"/><polygon points="333.6,521.4 379.6,494.7 377.6,498.2 333.6,524.9" fill="#c4c6d4"/><polygon points="284.6,485.5 333.6,513.9 379.6,487.2 330.6,458.8" fill="#22a2b7"/><polygon points="290.6,485.5 333.6,510.4 373.6,487.2 330.6,462.3" fill="#b9bccb"/><ellipse cx="292.2" cy="503.1" rx="5.8" ry="7.2" fill="#17171b"/><ellipse cx="291.0" cy="503.5" rx="5.8" ry="7.2" fill="#2a2a30"/><ellipse cx="291.0" cy="503.5" rx="3.6" ry="4.6" fill="#dcdde6"/><ellipse cx="291.0" cy="503.5" rx="1.2" ry="1.6" fill="#6a6c78"/><polygon points="298.3,486.5 334.8,507.7 334.8,447.7 298.3,426.5" fill="#e6b877"/><polygon points="334.8,507.7 369.8,487.4 369.8,427.4 334.8,447.7" fill="#c99552"/><polygon points="298.3,426.5 334.8,447.7 369.8,427.4 333.3,406.2" fill="#f0cb8d"/><line x1="298.3" y1="474.5" x2="334.8" y2="495.7" stroke="#f6deb4" stroke-width="0.9" stroke-linecap="butt"/><line x1="334.8" y1="495.7" x2="369.8" y2="475.4" stroke="#e6c088" stroke-width="0.9" stroke-linecap="butt"/><line x1="298.3" y1="462.5" x2="334.8" y2="483.7" stroke="#f6deb4" stroke-width="0.9" stroke-linecap="butt"/><line x1="334.8" y1="483.7" x2="369.8" y2="463.4" stroke="#e6c088" stroke-width="0.9" stroke-linecap="butt"/><line x1="298.3" y1="450.5" x2="334.8" y2="471.7" stroke="#f6deb4" stroke-width="0.9" stroke-linecap="butt"/><line x1="334.8" y1="471.7" x2="369.8" y2="451.4" stroke="#e6c088" stroke-width="0.9" stroke-linecap="butt"/><line x1="298.3" y1="438.5" x2="334.8" y2="459.7" stroke="#f6deb4" stroke-width="0.9" stroke-linecap="butt"/><line x1="334.8" y1="459.7" x2="369.8" y2="439.4" stroke="#e6c088" stroke-width="0.9" stroke-linecap="butt"/><line x1="304.4" y1="490.0" x2="304.4" y2="430.0" stroke="#d8d3dc" stroke-width="1.5" stroke-linecap="butt"/><line x1="304.4" y1="430.0" x2="339.4" y2="409.7" stroke="#f7ecd9" stroke-width="1.2" stroke-linecap="butt"/><line x1="310.5" y1="493.6" x2="310.5" y2="433.6" stroke="#b98343" stroke-width="1.0" stroke-linecap="butt"/><line x1="310.5" y1="433.6" x2="345.5" y2="413.3" stroke="#c99552" stroke-width="0.8" stroke-linecap="butt"/><line x1="316.6" y1="497.1" x2="316.6" y2="437.1" stroke="#d8d3dc" stroke-width="1.5" stroke-linecap="butt"/><line x1="316.6" y1="437.1" x2="351.6" y2="416.8" stroke="#f7ecd9" stroke-width="1.2" stroke-linecap="butt"/><line x1="322.6" y1="500.6" x2="322.6" y2="440.6" stroke="#b98343" stroke-width="1.0" stroke-linecap="butt"/><line x1="322.6" y1="440.6" x2="357.6" y2="420.3" stroke="#c99552" stroke-width="0.8" stroke-linecap="butt"/><line x1="328.7" y1="504.1" x2="328.7" y2="444.1" stroke="#d8d3dc" stroke-width="1.5" stroke-linecap="butt"/><line x1="328.7" y1="444.1" x2="363.7" y2="423.8" stroke="#f7ecd9" stroke-width="1.2" stroke-linecap="butt"/><line x1="340.6" y1="504.3" x2="340.6" y2="444.3" stroke="#cdc7d1" stroke-width="1.4" stroke-linecap="butt"/><line x1="304.1" y1="423.1" x2="340.6" y2="444.3" stroke="#f7ecd9" stroke-width="1.2" stroke-linecap="butt"/><line x1="346.5" y1="500.9" x2="346.5" y2="440.9" stroke="#a8753a" stroke-width="1.0" stroke-linecap="butt"/><line x1="310.0" y1="419.7" x2="346.5" y2="440.9" stroke="#c99552" stroke-width="0.8" stroke-linecap="butt"/><line x1="352.3" y1="497.5" x2="352.3" y2="437.5" stroke="#cdc7d1" stroke-width="1.4" stroke-linecap="butt"/><line x1="315.8" y1="416.4" x2="352.3" y2="437.5" stroke="#f7ecd9" stroke-width="1.2" stroke-linecap="butt"/><line x1="358.1" y1="494.1" x2="358.1" y2="434.1" stroke="#a8753a" stroke-width="1.0" stroke-linecap="butt"/><line x1="321.6" y1="413.0" x2="358.1" y2="434.1" stroke="#c99552" stroke-width="0.8" stroke-linecap="butt"/><line x1="364.0" y1="490.8" x2="364.0" y2="430.8" stroke="#cdc7d1" stroke-width="1.4" stroke-linecap="butt"/><line x1="327.5" y1="409.6" x2="364.0" y2="430.8" stroke="#f7ecd9" stroke-width="1.2" stroke-linecap="butt"/><path d="M284.6,486.5 L284.6,473.5 L333.6,501.9 L333.6,514.9 M309.1,487.7 L309.1,499.7" stroke="#26262c" stroke-width="1.7" fill="none" stroke-linejoin="round"/><polygon points="347.0,507.0 363.0,498.0 363.0,503.5 347.0,512.5" fill="#f3f3f6"/><ellipse cx="355.0" cy="505.3" rx="1.6" ry="1.7" fill="#f4cf1f"/><ellipse cx="350.0" cy="508.1" rx="0.7" ry="0.7" fill="#44464f"/><ellipse cx="352.0" cy="507.0" rx="0.7" ry="0.7" fill="#44464f"/><ellipse cx="358.0" cy="503.6" rx="0.7" ry="0.7" fill="#44464f"/><ellipse cx="360.0" cy="502.5" rx="0.7" ry="0.7" fill="#44464f"/><ellipse cx="324.9" cy="522.3" rx="5.8" ry="7.2" fill="#17171b"/><ellipse cx="323.7" cy="522.7" rx="5.8" ry="7.2" fill="#2a2a30"/><ellipse cx="323.7" cy="522.7" rx="3.6" ry="4.6" fill="#dcdde6"/><ellipse cx="323.7" cy="522.7" rx="1.2" ry="1.6" fill="#6a6c78"/><polygon points="345.2,525.0 393.2,552.8 393.2,560.3 345.2,532.5" fill="#1b93a7"/><polygon points="393.2,552.8 441.2,525.0 441.2,532.5 393.2,560.3" fill="#167f91"/><polygon points="345.2,532.5 393.2,560.3 393.2,563.8 349.2,536.0" fill="#e4e5ee"/><polygon points="393.2,560.3 441.2,532.5 439.2,536.0 393.2,563.8" fill="#c4c6d4"/><polygon points="345.2,525.0 393.2,552.8 441.2,525.0 393.2,497.2" fill="#22a2b7"/><polygon points="351.2,525.0 393.2,549.4 435.2,525.0 393.2,500.6" fill="#b9bccb"/><ellipse cx="352.8" cy="542.8" rx="5.8" ry="7.2" fill="#17171b"/><ellipse cx="351.6" cy="543.2" rx="5.8" ry="7.2" fill="#2a2a30"/><ellipse cx="351.6" cy="543.2" rx="3.6" ry="4.6" fill="#dcdde6"/><ellipse cx="351.6" cy="543.2" rx="1.2" ry="1.6" fill="#6a6c78"/><polygon points="368.3,518.2 382.3,525.9 382.3,463.9 368.3,456.2" fill="#e6b877"/><polygon points="382.3,525.9 404.3,513.8 404.3,451.8 382.3,463.9" fill="#c99552"/><polygon points="368.3,456.2 382.3,463.9 404.3,451.8 390.3,444.1" fill="#f0cb8d"/><line x1="368.3" y1="505.8" x2="382.3" y2="513.5" stroke="#f6deb4" stroke-width="0.9" stroke-linecap="butt"/><line x1="382.3" y1="513.5" x2="404.3" y2="501.4" stroke="#e6c088" stroke-width="0.9" stroke-linecap="butt"/><line x1="368.3" y1="493.4" x2="382.3" y2="501.1" stroke="#f6deb4" stroke-width="0.9" stroke-linecap="butt"/><line x1="382.3" y1="501.1" x2="404.3" y2="489.0" stroke="#e6c088" stroke-width="0.9" stroke-linecap="butt"/><line x1="368.3" y1="481.0" x2="382.3" y2="488.7" stroke="#f6deb4" stroke-width="0.9" stroke-linecap="butt"/><line x1="382.3" y1="488.7" x2="404.3" y2="476.6" stroke="#e6c088" stroke-width="0.9" stroke-linecap="butt"/><line x1="368.3" y1="468.6" x2="382.3" y2="476.3" stroke="#f6deb4" stroke-width="0.9" stroke-linecap="butt"/><line x1="382.3" y1="476.3" x2="404.3" y2="464.2" stroke="#e6c088" stroke-width="0.9" stroke-linecap="butt"/><line x1="375.3" y1="522.1" x2="375.3" y2="460.1" stroke="#d8d3dc" stroke-width="1.5" stroke-linecap="butt"/><line x1="375.3" y1="460.1" x2="397.3" y2="448.0" stroke="#f7ecd9" stroke-width="1.2" stroke-linecap="butt"/><line x1="387.8" y1="522.9" x2="387.8" y2="460.9" stroke="#cdc7d1" stroke-width="1.4" stroke-linecap="butt"/><line x1="373.8" y1="453.2" x2="387.8" y2="460.9" stroke="#f7ecd9" stroke-width="1.2" stroke-linecap="butt"/><line x1="393.3" y1="519.9" x2="393.3" y2="457.9" stroke="#a8753a" stroke-width="1.0" stroke-linecap="butt"/><line x1="379.3" y1="450.2" x2="393.3" y2="457.9" stroke="#c99552" stroke-width="0.8" stroke-linecap="butt"/><line x1="398.8" y1="516.8" x2="398.8" y2="454.8" stroke="#cdc7d1" stroke-width="1.4" stroke-linecap="butt"/><line x1="384.8" y1="447.1" x2="398.8" y2="454.8" stroke="#f7ecd9" stroke-width="1.2" stroke-linecap="butt"/><polygon points="382.3,525.9 396.3,533.6 396.3,480.1 382.3,472.4" fill="#e6b877"/><polygon points="396.3,533.6 416.3,522.6 416.3,469.1 396.3,480.1" fill="#c99552"/><polygon points="382.3,472.4 396.3,480.1 416.3,469.1 402.3,461.4" fill="#f0cb8d"/><line x1="382.3" y1="515.2" x2="396.3" y2="522.9" stroke="#f6deb4" stroke-width="0.9" stroke-linecap="butt"/><line x1="396.3" y1="522.9" x2="416.3" y2="511.9" stroke="#e6c088" stroke-width="0.9" stroke-linecap="butt"/><line x1="382.3" y1="504.5" x2="396.3" y2="512.2" stroke="#f6deb4" stroke-width="0.9" stroke-linecap="butt"/><line x1="396.3" y1="512.2" x2="416.3" y2="501.2" stroke="#e6c088" stroke-width="0.9" stroke-linecap="butt"/><line x1="382.3" y1="493.8" x2="396.3" y2="501.5" stroke="#f6deb4" stroke-width="0.9" stroke-linecap="butt"/><line x1="396.3" y1="501.5" x2="416.3" y2="490.5" stroke="#e6c088" stroke-width="0.9" stroke-linecap="butt"/><line x1="382.3" y1="483.1" x2="396.3" y2="490.8" stroke="#f6deb4" stroke-width="0.9" stroke-linecap="butt"/><line x1="396.3" y1="490.8" x2="416.3" y2="479.8" stroke="#e6c088" stroke-width="0.9" stroke-linecap="butt"/><line x1="389.3" y1="529.8" x2="389.3" y2="476.3" stroke="#d8d3dc" stroke-width="1.5" stroke-linecap="butt"/><line x1="389.3" y1="476.3" x2="409.3" y2="465.3" stroke="#f7ecd9" stroke-width="1.2" stroke-linecap="butt"/><line x1="401.3" y1="530.9" x2="401.3" y2="477.4" stroke="#cdc7d1" stroke-width="1.4" stroke-linecap="butt"/><line x1="387.3" y1="469.7" x2="401.3" y2="477.4" stroke="#f7ecd9" stroke-width="1.2" stroke-linecap="butt"/><line x1="406.3" y1="528.1" x2="406.3" y2="474.6" stroke="#a8753a" stroke-width="1.0" stroke-linecap="butt"/><line x1="392.3" y1="466.9" x2="406.3" y2="474.6" stroke="#c99552" stroke-width="0.8" stroke-linecap="butt"/><line x1="411.3" y1="525.4" x2="411.3" y2="471.9" stroke="#cdc7d1" stroke-width="1.4" stroke-linecap="butt"/><line x1="397.3" y1="464.2" x2="411.3" y2="471.9" stroke="#f7ecd9" stroke-width="1.2" stroke-linecap="butt"/><polygon points="404.3,529.2 418.0,536.7 418.0,500.7 404.3,493.2" fill="#e6b877"/><polygon points="418.0,536.7 430.0,530.1 430.0,494.1 418.0,500.7" fill="#c99552"/><polygon points="404.3,493.2 418.0,500.7 430.0,494.1 416.3,486.6" fill="#f0cb8d"/><line x1="404.3" y1="517.2" x2="418.0" y2="524.7" stroke="#f6deb4" stroke-width="0.9" stroke-linecap="butt"/><line x1="418.0" y1="524.7" x2="430.0" y2="518.1" stroke="#e6c088" stroke-width="0.9" stroke-linecap="butt"/><line x1="404.3" y1="505.2" x2="418.0" y2="512.7" stroke="#f6deb4" stroke-width="0.9" stroke-linecap="butt"/><line x1="418.0" y1="512.7" x2="430.0" y2="506.1" stroke="#e6c088" stroke-width="0.9" stroke-linecap="butt"/><line x1="411.2" y1="533.0" x2="411.2" y2="497.0" stroke="#d8d3dc" stroke-width="1.5" stroke-linecap="butt"/><line x1="411.2" y1="497.0" x2="423.2" y2="490.4" stroke="#f7ecd9" stroke-width="1.2" stroke-linecap="butt"/><line x1="424.0" y1="533.4" x2="424.0" y2="497.4" stroke="#cdc7d1" stroke-width="1.4" stroke-linecap="butt"/><line x1="410.3" y1="489.9" x2="424.0" y2="497.4" stroke="#f7ecd9" stroke-width="1.2" stroke-linecap="butt"/><polygon points="396.3,533.6 410.0,541.1 410.0,489.1 396.3,481.6" fill="#e6b877"/><polygon points="410.0,541.1 418.0,536.7 418.0,484.7 410.0,489.1" fill="#c99552"/><polygon points="396.3,481.6 410.0,489.1 418.0,484.7 404.3,477.2" fill="#f0cb8d"/><line x1="396.3" y1="520.6" x2="410.0" y2="528.1" stroke="#f6deb4" stroke-width="0.9" stroke-linecap="butt"/><line x1="410.0" y1="528.1" x2="418.0" y2="523.7" stroke="#e6c088" stroke-width="0.9" stroke-linecap="butt"/><line x1="396.3" y1="507.6" x2="410.0" y2="515.1" stroke="#f6deb4" stroke-width="0.9" stroke-linecap="butt"/><line x1="410.0" y1="515.1" x2="418.0" y2="510.7" stroke="#e6c088" stroke-width="0.9" stroke-linecap="butt"/><line x1="396.3" y1="494.6" x2="410.0" y2="502.1" stroke="#f6deb4" stroke-width="0.9" stroke-linecap="butt"/><line x1="410.0" y1="502.1" x2="418.0" y2="497.7" stroke="#e6c088" stroke-width="0.9" stroke-linecap="butt"/><line x1="403.2" y1="537.4" x2="403.2" y2="485.4" stroke="#d8d3dc" stroke-width="1.5" stroke-linecap="butt"/><line x1="403.2" y1="485.4" x2="411.2" y2="481.0" stroke="#f7ecd9" stroke-width="1.2" stroke-linecap="butt"/><line x1="414.0" y1="538.9" x2="414.0" y2="486.9" stroke="#cdc7d1" stroke-width="1.4" stroke-linecap="butt"/><line x1="400.3" y1="479.4" x2="414.0" y2="486.9" stroke="#f7ecd9" stroke-width="1.2" stroke-linecap="butt"/><polygon points="358.3,523.7 400.0,546.6 400.0,488.6 358.3,465.7" fill="#e6b877"/><polygon points="400.0,546.6 410.0,541.1 410.0,483.1 400.0,488.6" fill="#c99552"/><polygon points="358.3,465.7 400.0,488.6 410.0,483.1 368.3,460.2" fill="#f0cb8d"/><line x1="358.3" y1="512.1" x2="400.0" y2="535.0" stroke="#f6deb4" stroke-width="0.9" stroke-linecap="butt"/><line x1="400.0" y1="535.0" x2="410.0" y2="529.5" stroke="#e6c088" stroke-width="0.9" stroke-linecap="butt"/><line x1="358.3" y1="500.5" x2="400.0" y2="523.4" stroke="#f6deb4" stroke-width="0.9" stroke-linecap="butt"/><line x1="400.0" y1="523.4" x2="410.0" y2="517.9" stroke="#e6c088" stroke-width="0.9" stroke-linecap="butt"/><line x1="358.3" y1="488.9" x2="400.0" y2="511.8" stroke="#f6deb4" stroke-width="0.9" stroke-linecap="butt"/><line x1="400.0" y1="511.8" x2="410.0" y2="506.3" stroke="#e6c088" stroke-width="0.9" stroke-linecap="butt"/><line x1="358.3" y1="477.3" x2="400.0" y2="500.2" stroke="#f6deb4" stroke-width="0.9" stroke-linecap="butt"/><line x1="400.0" y1="500.2" x2="410.0" y2="494.7" stroke="#e6c088" stroke-width="0.9" stroke-linecap="butt"/><line x1="365.2" y1="527.5" x2="365.2" y2="469.5" stroke="#d8d3dc" stroke-width="1.5" stroke-linecap="butt"/><line x1="365.2" y1="469.5" x2="375.2" y2="464.0" stroke="#f7ecd9" stroke-width="1.2" stroke-linecap="butt"/><line x1="372.2" y1="531.3" x2="372.2" y2="473.3" stroke="#b98343" stroke-width="1.0" stroke-linecap="butt"/><line x1="372.2" y1="473.3" x2="382.2" y2="467.8" stroke="#c99552" stroke-width="0.8" stroke-linecap="butt"/><line x1="379.2" y1="535.2" x2="379.2" y2="477.2" stroke="#d8d3dc" stroke-width="1.5" stroke-linecap="butt"/><line x1="379.2" y1="477.2" x2="389.2" y2="471.7" stroke="#f7ecd9" stroke-width="1.2" stroke-linecap="butt"/><line x1="386.1" y1="539.0" x2="386.1" y2="481.0" stroke="#b98343" stroke-width="1.0" stroke-linecap="butt"/><line x1="386.1" y1="481.0" x2="396.1" y2="475.5" stroke="#c99552" stroke-width="0.8" stroke-linecap="butt"/><line x1="393.1" y1="542.8" x2="393.1" y2="484.8" stroke="#d8d3dc" stroke-width="1.5" stroke-linecap="butt"/><line x1="393.1" y1="484.8" x2="403.1" y2="479.3" stroke="#f7ecd9" stroke-width="1.2" stroke-linecap="butt"/><line x1="405.0" y1="543.9" x2="405.0" y2="485.9" stroke="#cdc7d1" stroke-width="1.4" stroke-linecap="butt"/><line x1="363.3" y1="463.0" x2="405.0" y2="485.9" stroke="#f7ecd9" stroke-width="1.2" stroke-linecap="butt"/><path d="M345.2,526.0 L345.2,513.0 L393.2,540.8 L393.2,553.8 M369.2,526.9 L369.2,538.9" stroke="#26262c" stroke-width="1.7" fill="none" stroke-linejoin="round"/><path d="M441.2,526.0 L441.2,513.0 L431.2,518.8" stroke="#26262c" stroke-width="1.7" fill="none" stroke-linejoin="round"/><polygon points="411.5,543.5 427.5,534.5 427.5,540.0 411.5,549.0" fill="#f3f3f6"/><ellipse cx="419.5" cy="541.8" rx="1.6" ry="1.7" fill="#f4cf1f"/><ellipse cx="414.5" cy="544.6" rx="0.7" ry="0.7" fill="#44464f"/><ellipse cx="416.5" cy="543.5" rx="0.7" ry="0.7" fill="#44464f"/><ellipse cx="422.5" cy="540.1" rx="0.7" ry="0.7" fill="#44464f"/><ellipse cx="424.5" cy="539.0" rx="0.7" ry="0.7" fill="#44464f"/><ellipse cx="385.5" cy="562.3" rx="5.8" ry="7.2" fill="#17171b"/><ellipse cx="384.3" cy="562.7" rx="5.8" ry="7.2" fill="#2a2a30"/><ellipse cx="384.3" cy="562.7" rx="3.6" ry="4.6" fill="#dcdde6"/><ellipse cx="384.3" cy="562.7" rx="1.2" ry="1.6" fill="#6a6c78"/>
</g>
<rect x="134.0" y="741.0" width="43.6" height="46.2" fill="url(#bar)"/>
<rect x="194.7" y="510.0" width="43.6" height="231.0" fill="url(#bar)"/>
<rect x="255.4" y="733.3" width="43.6" height="7.7" fill="url(#bar)"/>
<rect x="316.1" y="687.1" width="43.6" height="53.9" fill="url(#bar)"/>
<rect x="376.8" y="671.7" width="43.6" height="69.3" fill="url(#bar)"/>
<rect x="437.5" y="679.4" width="43.6" height="61.6" fill="url(#bar)"/>
<rect x="498.2" y="741.0" width="43.6" height="7.7" fill="url(#bar)"/>
<rect x="558.9" y="733.3" width="43.6" height="7.7" fill="url(#bar)"/>
<rect x="619.6" y="741.0" width="43.6" height="200.2" fill="url(#bar)"/>
<rect x="680.3" y="725.6" width="43.6" height="15.4" fill="url(#bar)"/>
<rect x="741.0" y="517.7" width="43.6" height="223.3" fill="url(#bar)"/>
<rect x="801.7" y="386.8" width="43.6" height="354.2" fill="url(#bar)"/>
<rect x="862.4" y="640.9" width="43.6" height="100.1" fill="url(#bar)"/>
<text x="138.19" y="725.6" font-family='"Liberation Sans", sans-serif' font-size="23.4" font-weight="normal" font-style="italic" fill="#231f20" text-anchor="start" textLength="35.66" lengthAdjust="spacingAndGlyphs" stroke="#231f20" stroke-width="0.9">49.4</text>
<text x="194.78" y="500.4" font-family='"Liberation Sans", sans-serif' font-size="23.4" font-weight="normal" font-style="italic" fill="#231f20" text-anchor="start" textLength="33.22" lengthAdjust="spacingAndGlyphs" stroke="#231f20" stroke-width="0.9">53.0</text>
<text x="261.54" y="721" font-family='"Liberation Sans", sans-serif' font-size="23.4" font-weight="normal" font-style="italic" fill="#231f20" text-anchor="start" textLength="32.8" lengthAdjust="spacingAndGlyphs" stroke="#231f20" stroke-width="0.9">50.1</text>
<text x="312.97" y="671.4" font-family='"Liberation Sans", sans-serif' font-size="23.4" font-weight="normal" font-style="italic" fill="#231f20" text-anchor="start" textLength="35.06" lengthAdjust="spacingAndGlyphs" stroke="#231f20" stroke-width="0.9">50.7</text>
<text x="381.2" y="654.6" font-family='"Liberation Sans", sans-serif' font-size="23.4" font-weight="normal" font-style="italic" fill="#231f20" text-anchor="start" textLength="34.42" lengthAdjust="spacingAndGlyphs" stroke="#231f20" stroke-width="0.9">50.9</text>
<text x="441.97" y="664.4" font-family='"Liberation Sans", sans-serif' font-size="23.4" font-weight="normal" font-style="italic" fill="#231f20" text-anchor="start" textLength="34.03" lengthAdjust="spacingAndGlyphs" stroke="#231f20" stroke-width="0.9">50.8</text>
<text x="498.0" y="725.5" font-family='"Liberation Sans", sans-serif' font-size="23.4" font-weight="normal" font-style="italic" fill="#231f20" text-anchor="start" textLength="34.61" lengthAdjust="spacingAndGlyphs" stroke="#231f20" stroke-width="0.9">49.9</text>
<text x="563.75" y="713.9" font-family='"Liberation Sans", sans-serif' font-size="23.4" font-weight="normal" font-style="italic" fill="#231f20" text-anchor="start" textLength="33.15" lengthAdjust="spacingAndGlyphs" stroke="#231f20" stroke-width="0.9">50.1</text>
<text x="624.2" y="728" font-family='"Liberation Sans", sans-serif' font-size="23.4" font-weight="normal" font-style="italic" fill="#231f20" text-anchor="start" textLength="33.84" lengthAdjust="spacingAndGlyphs" stroke="#231f20" stroke-width="0.9">47.4</text>
<text x="685.16" y="710.4" font-family='"Liberation Sans", sans-serif' font-size="23.4" font-weight="normal" font-style="italic" fill="#231f20" text-anchor="start" textLength="33.84" lengthAdjust="spacingAndGlyphs" stroke="#231f20" stroke-width="0.9">50.2</text>
<text x="745.56" y="503.3" font-family='"Liberation Sans", sans-serif' font-size="23.4" font-weight="normal" font-style="italic" fill="#231f20" text-anchor="start" textLength="33.25" lengthAdjust="spacingAndGlyphs" stroke="#231f20" stroke-width="0.9">52.9</text>
<text x="806.98" y="375.7" font-family='"Liberation Sans", sans-serif' font-size="23.4" font-weight="normal" font-style="italic" fill="#231f20" text-anchor="start" textLength="33.02" lengthAdjust="spacingAndGlyphs" stroke="#231f20" stroke-width="0.9">54.6</text>
<text x="868.0" y="625" font-family='"Liberation Sans", sans-serif' font-size="25.4" font-weight="bold" font-style="italic" fill="#1a1718" text-anchor="start" textLength="31.7" lengthAdjust="spacingAndGlyphs" stroke="#1a1718" stroke-width="0.4">51.3</text>
<text x="91.77" y="739.2" font-family='"Liberation Sans", sans-serif' font-size="24.5" font-weight="normal" font-style="normal" fill="#333" text-anchor="start" textLength="10.79" lengthAdjust="spacingAndGlyphs">50</text>
<text x="125.95" y="819" font-family='"Liberation Sans", sans-serif' font-size="23" font-weight="normal" font-style="normal" fill="#333333" text-anchor="start" textLength="40.49" lengthAdjust="spacingAndGlyphs">March</text>
<text x="128.98" y="843.4" font-family='"Liberation Sans", sans-serif' font-size="23" font-weight="normal" font-style="normal" fill="#333333" text-anchor="start" textLength="34.25" lengthAdjust="spacingAndGlyphs">2025</text>
<text x="192.96" y="819" font-family='"Liberation Sans", sans-serif' font-size="23" font-weight="normal" font-style="normal" fill="#333333" text-anchor="start" textLength="31.09" lengthAdjust="spacingAndGlyphs">April</text>
<text x="256.97" y="819" font-family='"Liberation Sans", sans-serif' font-size="23" font-weight="normal" font-style="normal" fill="#333333" text-anchor="start" textLength="26.26" lengthAdjust="spacingAndGlyphs">May</text>
<text x="316.55" y="819" font-family='"Liberation Sans", sans-serif' font-size="23" font-weight="normal" font-style="normal" fill="#333333" text-anchor="start" textLength="31.68" lengthAdjust="spacingAndGlyphs">June</text>
<text x="381.2" y="819" font-family='"Liberation Sans", sans-serif' font-size="23" font-weight="normal" font-style="normal" fill="#333333" text-anchor="start" textLength="25.43" lengthAdjust="spacingAndGlyphs">July</text>
<text x="442.0" y="819" font-family='"Liberation Sans", sans-serif' font-size="23" font-weight="normal" font-style="normal" fill="#333333" text-anchor="start" textLength="30.46" lengthAdjust="spacingAndGlyphs">Aug.</text>
<text x="501.14" y="819" font-family='"Liberation Sans", sans-serif' font-size="23" font-weight="normal" font-style="normal" fill="#333333" text-anchor="start" textLength="34.93" lengthAdjust="spacingAndGlyphs">Sept.</text>
<text x="566.75" y="819" font-family='"Liberation Sans", sans-serif' font-size="23" font-weight="normal" font-style="normal" fill="#333333" text-anchor="start" textLength="29.0" lengthAdjust="spacingAndGlyphs">Oct.</text>
<text x="624.81" y="966.3" font-family='"Liberation Sans", sans-serif' font-size="23" font-weight="normal" font-style="normal" fill="#333333" text-anchor="start" textLength="32.13" lengthAdjust="spacingAndGlyphs">Nov.</text>
<text x="687.44" y="819" font-family='"Liberation Sans", sans-serif' font-size="23" font-weight="normal" font-style="normal" fill="#333333" text-anchor="start" textLength="30.26" lengthAdjust="spacingAndGlyphs">Dec.</text>
<text x="749.0" y="819" font-family='"Liberation Sans", sans-serif' font-size="23" font-weight="normal" font-style="normal" fill="#333333" text-anchor="start" textLength="27.27" lengthAdjust="spacingAndGlyphs">Jan.</text>
<text x="743.96" y="843" font-family='"Liberation Sans", sans-serif' font-size="23" font-weight="normal" font-style="normal" fill="#333333" text-anchor="start" textLength="33.66" lengthAdjust="spacingAndGlyphs">2026</text>
<text x="808.91" y="819" font-family='"Liberation Sans", sans-serif' font-size="23" font-weight="normal" font-style="normal" fill="#333333" text-anchor="start" textLength="28.96" lengthAdjust="spacingAndGlyphs">Feb.</text>
<text x="864.98" y="819" font-family='"Liberation Sans", sans-serif' font-size="23" font-weight="bold" font-style="normal" fill="#231f20" text-anchor="start" textLength="41.65" lengthAdjust="spacingAndGlyphs">March</text>
<text x="118.8" y="68" font-family='"Liberation Serif", serif' font-size="50.5" font-weight="bold" font-style="normal" fill="#231f20" text-anchor="start" textLength="792.41" lengthAdjust="spacingAndGlyphs" stroke="#231f20" stroke-width="0.7">Philippines’ Manufacturing PMI</text>
<text x="142.0" y="121.3" font-family='"Liberation Serif", serif' font-size="50.5" font-weight="bold" font-style="normal" fill="#231f20" text-anchor="start" textLength="745.01" lengthAdjust="spacingAndGlyphs" stroke="#231f20" stroke-width="0.7">hits three-month low in March</text>
<text x="141.99" y="158.2" font-family='"Liberation Sans", sans-serif' font-size="19.6" font-weight="normal" font-style="normal" fill="#333" text-anchor="start" textLength="300.92" lengthAdjust="spacingAndGlyphs">50 = no change from previous month</text>
<text x="68.4" y="898.4" font-family='"Liberation Sans", sans-serif' font-size="14.2" font-weight="bold" font-style="normal" fill="#231f20" text-anchor="start" textLength="39.8" lengthAdjust="spacingAndGlyphs">Source</text>
<text x="108.6" y="898.4" font-family='"Liberation Sans", sans-serif' font-size="14.2" font-weight="normal" font-style="normal" fill="#333" text-anchor="start" textLength="419.7" lengthAdjust="spacingAndGlyphs">: S&amp;P Global’s ASEAN Manufacturing Purchasing Managers’ Index (PMI)</text>
<text x="68.4" y="918.2" font-family='"Liberation Sans", sans-serif' font-size="14.2" font-weight="normal" font-style="normal" fill="#333" text-anchor="start" textLength="145" lengthAdjust="spacingAndGlyphs">(Data as of April 1, 2026)</text>
<text x="68.4" y="937.7" font-family='"Liberation Sans", sans-serif' font-size="14.2" font-weight="bold" font-style="italic" fill="#231f20" text-anchor="start" textLength="88.1" lengthAdjust="spacingAndGlyphs">BusinessWorld</text>
<text x="161" y="937.7" font-family='"Liberation Sans", sans-serif' font-size="14.2" font-weight="bold" font-style="normal" fill="#231f20" text-anchor="start" textLength="53.4" lengthAdjust="spacingAndGlyphs">Research</text>
<text x="214.8" y="937.7" font-family='"Liberation Sans", sans-serif' font-size="14.2" font-weight="normal" font-style="normal" fill="#333" text-anchor="start" textLength="140.7" lengthAdjust="spacingAndGlyphs">: Abigail Marie P. Yraola</text>
<text x="68.4" y="957.8" font-family='"Liberation Sans", sans-serif' font-size="14.2" font-weight="bold" font-style="italic" fill="#231f20" text-anchor="start" textLength="88.1" lengthAdjust="spacingAndGlyphs">BusinessWorld</text>
<text x="161" y="957.8" font-family='"Liberation Sans", sans-serif' font-size="14.2" font-weight="bold" font-style="normal" fill="#231f20" text-anchor="start" textLength="50.6" lengthAdjust="spacingAndGlyphs">Graphics</text>
<text x="212" y="957.8" font-family='"Liberation Sans", sans-serif' font-size="14.2" font-weight="normal" font-style="normal" fill="#333" text-anchor="start" textLength="104.5" lengthAdjust="spacingAndGlyphs">: Crecencio I. Cruz</text>
<circle cx="994" cy="994" r="25" fill="#d9832b"/>
<text x="974" y="1005.2" font-family='"Liberation Serif", serif' font-size="33" font-weight="bold" font-style="normal" fill="#fff" text-anchor="start" textLength="40" lengthAdjust="spacingAndGlyphs" stroke="#fff" stroke-width="0.9">BW</text>
</svg>
</body></html>
